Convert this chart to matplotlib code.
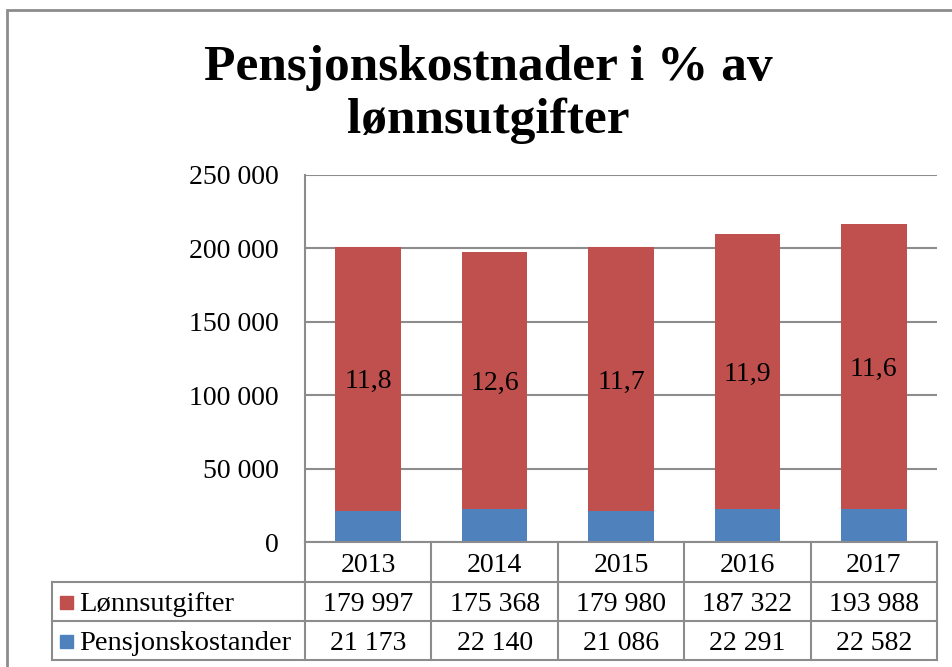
import matplotlib
matplotlib.use('Agg')
import matplotlib.pyplot as plt
import numpy as np
from matplotlib.patches import Rectangle
from matplotlib.lines import Line2D

# Data
years = ["2013", "2014", "2015", "2016", "2017"]
lonn = [179997, 175368, 179980, 187322, 193988]
pensjon = [21173, 22140, 21086, 22291, 22582]
series_names = ["Lønnsutgifter", "Pensjonskostander"]
y_ticks = [0, 50000, 100000, 150000, 200000, 250000]

red = '#C0504D'
blue = '#4F81BD'
grid_col = '#8C8C8C'
serif = ['Liberation Serif', 'DejaVu Serif']
fs = 20


def fmt(v):
    return f"{v:,}".replace(",", " ")


W, H = 953, 667
fig = plt.figure(figsize=(W / 100, H / 100), dpi=100)
# plot area in pixels: x 305..937, y 175..542
ax = fig.add_axes([305 / W, 1 - 542 / H, 632 / W, 367 / H])

x = np.arange(len(years))
ax.bar(x, pensjon, width=0.52, color=blue, zorder=2)
ax.bar(x, lonn, width=0.52, bottom=pensjon, color=red, zorder=2)

# percentage labels in the middle of the red segments
for i in range(len(years)):
    pct = pensjon[i] / lonn[i] * 100
    ax.text(x[i], pensjon[i] + lonn[i] / 2, f"{pct:.1f}".replace(".", ","),
            ha='center', va='center_baseline', fontsize=fs, family=serif,
            zorder=3)

ax.set_xlim(-0.5, len(years) - 0.5)
ax.set_ylim(0, 250000)
ax.set_yticks(y_ticks)
ax.set_yticklabels([fmt(v) for v in y_ticks], family=serif, fontsize=fs)
ax.tick_params(axis='y', length=0, pad=19)
ax.set_xticks([])
ax.grid(axis='y', color=grid_col, lw=1.5, zorder=1)
for s in ['top', 'right', 'bottom']:
    ax.spines[s].set_visible(False)
ax.spines['left'].set_color(grid_col)
ax.spines['left'].set_linewidth(1.5)


# data table under the plot (drawn in pixel units of the figure)
def px(xp, yp):
    return xp / W, 1 - yp / H


def hline(y, x0, x1):
    (a, b), (c, _) = px(x0, y), px(x1, y)
    fig.add_artist(Line2D([a, c], [b, b], color=grid_col, lw=1.5))


def vline(xp, y0, y1):
    (a, b), (_, d) = px(xp, y0), px(xp, y1)
    fig.add_artist(Line2D([a, a], [b, d], color=grid_col, lw=1.5))


row_edges = [542, 582, 621, 660]
col_edges = np.linspace(305, 937, len(years) + 1)
label_left = 52

hline(row_edges[0], col_edges[0], col_edges[-1])
for y in row_edges[1:]:
    hline(y, label_left, col_edges[-1])
for xe in col_edges:
    vline(xe, row_edges[0], row_edges[-1])
vline(label_left, row_edges[1], row_edges[-1])

table_rows = [years, [fmt(v) for v in lonn], [fmt(v) for v in pensjon]]
for r, row in enumerate(table_rows):
    yc = (row_edges[r] + row_edges[r + 1]) / 2
    for c, val in enumerate(row):
        xc = (col_edges[c] + col_edges[c + 1]) / 2
        fig.text(*px(xc, yc), val, ha='center', va='center_baseline',
                 fontsize=fs, family=serif)

# row labels with legend keys
for k, (name, col) in enumerate(zip(series_names, [red, blue])):
    yc = (row_edges[k + 1] + row_edges[k + 2]) / 2
    sx, sy = px(60, yc + 7)
    fig.add_artist(Rectangle((sx, sy), 13 / W, 13 / H, color=col,
                             transform=fig.transFigure))
    fig.text(*px(79, yc), name, ha='left', va='center_baseline',
             fontsize=fs + 0.5, family=serif)

# title
fig.text(*px(488, 80), "Pensjonskostnader i % av", ha='center',
         va='baseline', fontsize=37, fontweight='bold', family=serif)
fig.text(*px(488, 133), "lønnsutgifter", ha='center',
         va='baseline', fontsize=37, fontweight='bold', family=serif)

# outer chart frame
fig.add_artist(Rectangle(px(7, 700), 1.1, (700 - 10) / H,
                         transform=fig.transFigure, fill=False,
                         edgecolor='#8C8C8C', lw=2))

fig.savefig('out.png', dpi=100)
